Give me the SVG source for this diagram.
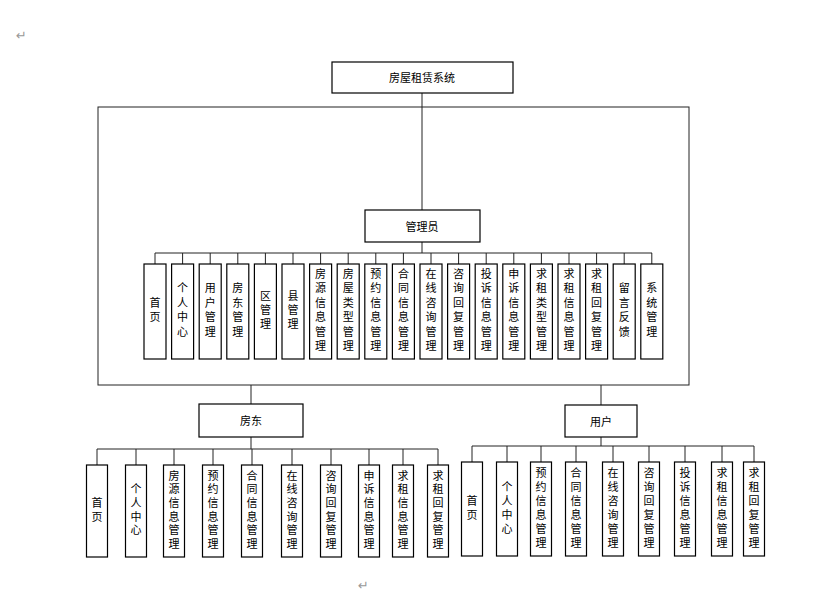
<svg xmlns="http://www.w3.org/2000/svg" width="826" height="597" viewBox="0 0 826 597">
<style>
.b{fill:#fff;stroke:#000;stroke-width:1.2}
.t{font-family:"Noto Sans CJK SC","Liberation Sans",sans-serif;font-size:11px;fill:#000}
.h{text-anchor:middle;dominant-baseline:central}
.v{writing-mode:vertical-rl;text-anchor:middle;letter-spacing:3.4px}
.v2{letter-spacing:2.7px}
.v3{letter-spacing:3px}
.c{fill:none;stroke:#222;stroke-width:1}
.m{font-family:"DejaVu Sans",sans-serif;font-size:13px;fill:#999}
</style>
<rect width="826" height="597" fill="#fff"/>
<text class="m" x="16" y="40">↵</text>
<text class="m" x="358" y="590">↵</text>
<g id="connectors">
<rect class="c" x="98" y="107" width="591" height="278"/>
<path class="c" d="M422 93V210M422 242V253M155 253H652M155 253V264M182.6 253V264M210.2 253V264M237.8 253V264M265.4 253V264M293 253V264M320.6 253V264M348.2 253V264M375.8 253V264M403.4 253V264M431 253V264M458.6 253V264M486.2 253V264M513.8 253V264M541.4 253V264M569 253V264M596.6 253V264M624.2 253V264M651.8 253V264"/>
<path class="c" d="M251 385V404M251 437V449M97 449H438M97 449V465M136 449V465M174 449V465M213 449V465M252 449V465M292 449V465M331 449V465M369 449V465M403 449V465M438 449V465"/>
<path class="c" d="M601 385V405M601 437V446M472 446H754M472 446V462M507 446V462M541 446V462M576 446V462M613 446V462M649 446V462M685 446V462M722 446V462M754 446V462"/>
</g>
<g id="root"><rect class="b" x="332" y="62" width="181" height="31"/><text class="t h" x="422" y="77">房屋租赁系统</text></g>
<g id="admin"><rect class="b" x="365" y="210" width="115" height="32"/><text class="t h" x="422" y="226">管理员</text></g>
<g id="landlord"><rect class="b" x="199" y="404" width="104" height="33"/><text class="t h" x="251" y="420">房东</text></g>
<g id="user"><rect class="b" x="565" y="405" width="72" height="32"/><text class="t h" x="601" y="421">用户</text></g>
<g id="admin-children">
<g id="a1"><rect class="b" x="144" y="264" width="22" height="95"/><text class="t v" x="155" y="311.5">首页</text></g>
<g id="a2"><rect class="b" x="171.6" y="264" width="22" height="95"/><text class="t v" x="182.6" y="311.5">个人中心</text></g>
<g id="a3"><rect class="b" x="199.2" y="264" width="22" height="95"/><text class="t v" x="210.2" y="311.5">用户管理</text></g>
<g id="a4"><rect class="b" x="226.8" y="264" width="22" height="95"/><text class="t v" x="237.8" y="311.5">房东管理</text></g>
<g id="a5"><rect class="b" x="254.4" y="264" width="22" height="95"/><text class="t v" x="265.4" y="311.5">区管理</text></g>
<g id="a6"><rect class="b" x="282" y="264" width="22" height="95"/><text class="t v" x="293" y="311.5">县管理</text></g>
<g id="a7"><rect class="b" x="309.6" y="264" width="22" height="95"/><text class="t v" x="320.6" y="311.5">房源信息管理</text></g>
<g id="a8"><rect class="b" x="337.2" y="264" width="22" height="95"/><text class="t v" x="348.2" y="311.5">房屋类型管理</text></g>
<g id="a9"><rect class="b" x="364.8" y="264" width="22" height="95"/><text class="t v" x="375.8" y="311.5">预约信息管理</text></g>
<g id="a10"><rect class="b" x="392.4" y="264" width="22" height="95"/><text class="t v" x="403.4" y="311.5">合同信息管理</text></g>
<g id="a11"><rect class="b" x="420" y="264" width="22" height="95"/><text class="t v" x="431" y="311.5">在线咨询管理</text></g>
<g id="a12"><rect class="b" x="447.6" y="264" width="22" height="95"/><text class="t v" x="458.6" y="311.5">咨询回复管理</text></g>
<g id="a13"><rect class="b" x="475.2" y="264" width="22" height="95"/><text class="t v" x="486.2" y="311.5">投诉信息管理</text></g>
<g id="a14"><rect class="b" x="502.8" y="264" width="22" height="95"/><text class="t v" x="513.8" y="311.5">申诉信息管理</text></g>
<g id="a15"><rect class="b" x="530.4" y="264" width="22" height="95"/><text class="t v" x="541.4" y="311.5">求租类型管理</text></g>
<g id="a16"><rect class="b" x="558" y="264" width="22" height="95"/><text class="t v" x="569" y="311.5">求租信息管理</text></g>
<g id="a17"><rect class="b" x="585.6" y="264" width="22" height="95"/><text class="t v" x="596.6" y="311.5">求租回复管理</text></g>
<g id="a18"><rect class="b" x="613.2" y="264" width="22" height="95"/><text class="t v" x="624.2" y="311.5">留言反馈</text></g>
<g id="a19"><rect class="b" x="640.8" y="264" width="22" height="95"/><text class="t v" x="651.8" y="311.5">系统管理</text></g>
</g>
<g id="landlord-children">
<g id="l1"><rect class="b" x="86.5" y="465" width="21" height="92"/><text class="t v v2" x="97" y="511">首页</text></g>
<g id="l2"><rect class="b" x="125.5" y="465" width="21" height="92"/><text class="t v v2" x="136" y="511">个人中心</text></g>
<g id="l3"><rect class="b" x="163.5" y="465" width="21" height="92"/><text class="t v v2" x="174" y="511">房源信息管理</text></g>
<g id="l4"><rect class="b" x="202.5" y="465" width="21" height="92"/><text class="t v v2" x="213" y="511">预约信息管理</text></g>
<g id="l5"><rect class="b" x="241.5" y="465" width="21" height="92"/><text class="t v v2" x="252" y="511">合同信息管理</text></g>
<g id="l6"><rect class="b" x="281.5" y="465" width="21" height="92"/><text class="t v v2" x="292" y="511">在线咨询管理</text></g>
<g id="l7"><rect class="b" x="320.5" y="465" width="21" height="92"/><text class="t v v2" x="331" y="511">咨询回复管理</text></g>
<g id="l8"><rect class="b" x="358.5" y="465" width="21" height="92"/><text class="t v v2" x="369" y="511">申诉信息管理</text></g>
<g id="l9"><rect class="b" x="392.5" y="465" width="21" height="92"/><text class="t v v2" x="403" y="511">求租信息管理</text></g>
<g id="l10"><rect class="b" x="427.5" y="465" width="21" height="92"/><text class="t v v2" x="438" y="511">求租回复管理</text></g>
</g>
<g id="user-children">
<g id="u1"><rect class="b" x="461.5" y="462" width="21" height="94"/><text class="t v v3" x="472" y="509">首页</text></g>
<g id="u2"><rect class="b" x="496.5" y="462" width="21" height="94"/><text class="t v v3" x="507" y="509">个人中心</text></g>
<g id="u3"><rect class="b" x="530.5" y="462" width="21" height="94"/><text class="t v v3" x="541" y="509">预约信息管理</text></g>
<g id="u4"><rect class="b" x="565.5" y="462" width="21" height="94"/><text class="t v v3" x="576" y="509">合同信息管理</text></g>
<g id="u5"><rect class="b" x="602.5" y="462" width="21" height="94"/><text class="t v v3" x="613" y="509">在线咨询管理</text></g>
<g id="u6"><rect class="b" x="638.5" y="462" width="21" height="94"/><text class="t v v3" x="649" y="509">咨询回复管理</text></g>
<g id="u7"><rect class="b" x="674.5" y="462" width="21" height="94"/><text class="t v v3" x="685" y="509">投诉信息管理</text></g>
<g id="u8"><rect class="b" x="711.5" y="462" width="21" height="94"/><text class="t v v3" x="722" y="509">求租信息管理</text></g>
<g id="u9"><rect class="b" x="743.5" y="462" width="21" height="94"/><text class="t v v3" x="754" y="509">求租回复管理</text></g>
</g>
</svg>
